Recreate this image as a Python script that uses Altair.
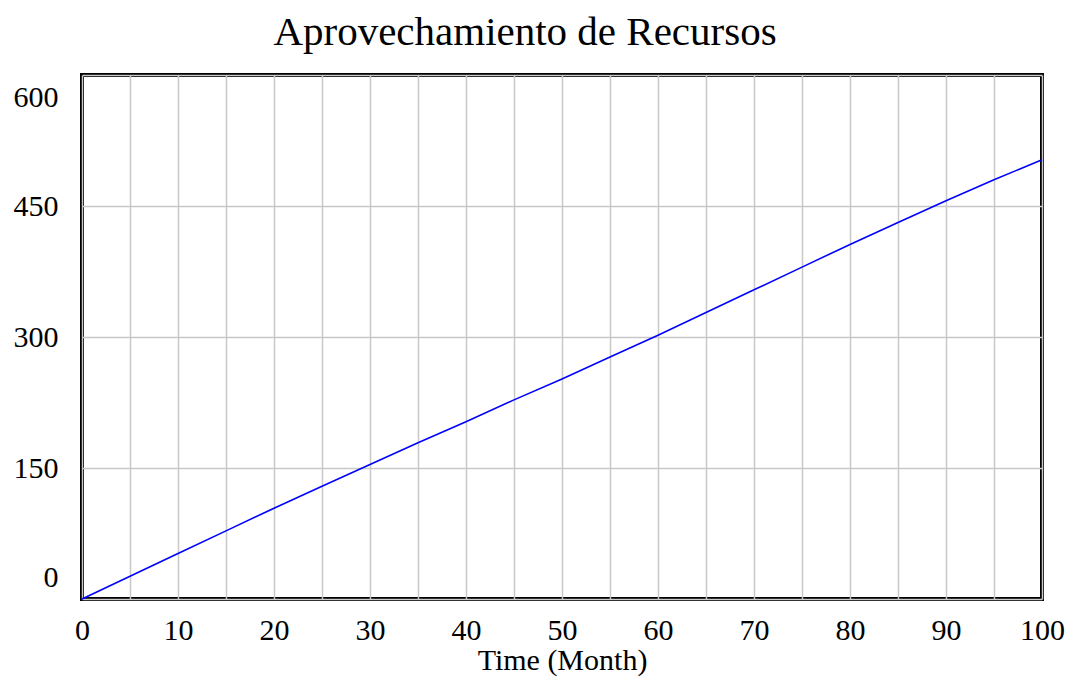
import altair as alt
import pandas as pd

months = [0, 5, 10, 15, 20, 25, 30, 35, 40, 45, 50, 55, 60, 65, 70, 75, 80, 85, 90, 95, 100]
recursos = [0, 26, 52, 78, 104, 129, 154, 179, 203, 228, 252, 277, 302, 328, 354, 380, 406, 431, 456, 480, 503]
x_ticks = list(range(0, 101, 5))
y_ticks = [0, 150, 300, 450, 600]

df = pd.DataFrame({"t": months, "v": recursos})

font = "Liberation Serif"

chart = alt.Chart(df).mark_line(color="#0000ff", strokeWidth=1.6).encode(
    x=alt.X("t:Q", scale=alt.Scale(domain=[0, 100], nice=False, zero=False),
            axis=alt.Axis(values=x_ticks, title="Time (Month)",
                          labelExpr="datum.value % 10 == 0 ? datum.label : ''",
                          grid=True, gridColor="#c8c8c8", gridWidth=1.5,
                          domain=False, ticks=False, labelPadding=16,
                          labelFlush=False,
                          labelFont=font, labelFontSize=30, labelColor="#000",
                          titleFont=font, titleFontSize=30, titleFontWeight="normal",
                          titleColor="#000", titlePadding=0)),
    y=alt.Y("v:Q", scale=alt.Scale(domain=[0, 600], nice=False),
            axis=alt.Axis(values=y_ticks, title=None,
                          grid=True, gridColor="#c8c8c8", gridWidth=1.5,
                          domain=False, ticks=False, labelPadding=24,
                          labelFlush=True, labelFlushOffset=-7,
                          labelFont=font, labelFontSize=30, labelColor="#000")),
).properties(
    width=960, height=524,
    padding={"left": 74, "top": 67, "right": 23, "bottom": 78},
    autosize=alt.AutoSizeParams(type="none"),
    title=alt.TitleParams("Aprovechamiento de Recursos", font=font, fontSize=41,
                          fontWeight="normal", color="#000", anchor="middle",
                          dx=-37, offset=21),
).configure_view(stroke="#000", strokeWidth=4)

chart.save("out.html", embed_options={"renderer": "svg", "actions": False})
